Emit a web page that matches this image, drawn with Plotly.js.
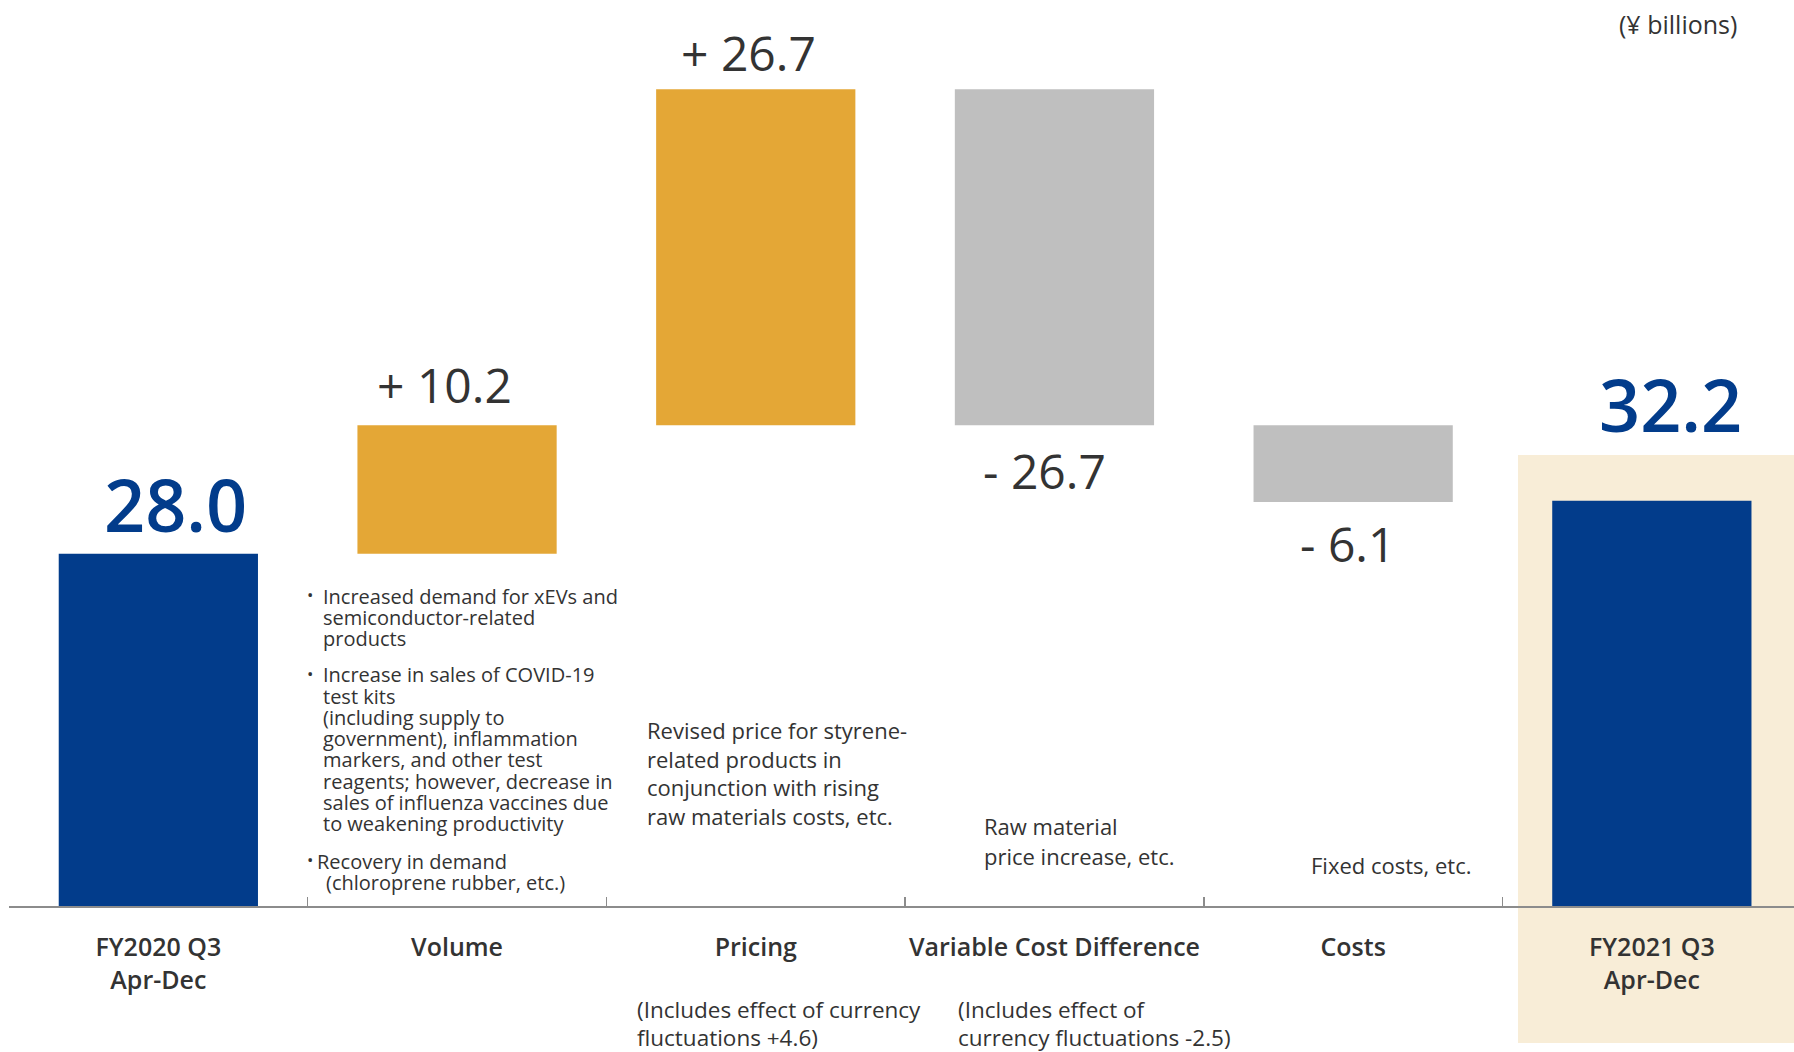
<!DOCTYPE html>
<html><head><meta charset="utf-8">
<script src="https://cdn.plot.ly/plotly-3.0.1.min.js"></script>
<style>html,body{margin:0;padding:0;background:#fff}</style>
</head><body>
<div id="chart" style="width:1794px;height:1052px"></div>
<script>
// ---- data ----
const categories = ["FY2020 Q3<br>Apr-Dec", "Volume", "Pricing", "Variable Cost Difference", "Costs", "FY2021 Q3<br>Apr-Dec"];
const measures = ["absolute", "relative", "relative", "relative", "relative", "absolute"];
const values = [28.0, 10.2, 26.7, -26.7, -6.1, 32.2];
const valueLabels = ["28.0", "+ 10.2", "+ 26.7", "- 26.7", "- 6.1", "32.2"];
const unitLabel = "(¥ billions)";
const volumeNotes1 = ["Increased demand for xEVs and", "semiconductor-related", "products"];
const volumeNotes2 = ["Increase in sales of COVID-19", "test kits", "(including supply to", "government), inflammation", "markers, and other test", "reagents; however, decrease in", "sales of influenza vaccines due", "to weakening productivity"];
const volumeNotes3 = ["Recovery in demand", "(chloroprene rubber, etc.)"];
const pricingNotes = ["Revised price for styrene-", "related products in", "conjunction with rising", "raw materials costs, etc."];
const variableNotes = ["Raw material", "price increase, etc."];
const costsNotes = ["Fixed costs, etc."];
const pricingSub = ["(Includes effect of currency", "fluctuations +4.6)"];
const variableSub = ["(Includes effect of", "currency fluctuations -2.5)"];

// ---- styling ----
const NAVY = "#023C8B", ORANGE = "#E4A736", GREY = "#BFBFBF", BEIGE = "#F8EDD7", TXT = "#333333";
const FONT = "Open Sans, Noto Sans, sans-serif";
const W = 1794, H = 1052, ML = 9, MB = 146;
const PW = W - ML, PH = H - MB;
const px = p => (p - ML) / PW;
const py = p => (PH - p) / PH;

// cumulative levels
const tops = [], bottoms = [];
let level = 0;
values.forEach((v, i) => {
  let start = level;
  if (measures[i] === "absolute") { start = 0; level = v; } else { level += v; }
  tops.push(Math.max(start, level));
  bottoms.push(Math.min(start, level));
});

const annotations = [];
// value labels
const labelStyle = [
  {pos: "top", dx: 17, dy: 50, size: 72, color: NAVY, weight: 600},
  {pos: "top", dx: -13, dy: 41, size: 48, color: TXT, weight: 400},
  {pos: "top", dx: -7, dy: 37, size: 48, color: TXT, weight: 400},
  {pos: "bottom", dx: -10, dy: -45, size: 48, color: TXT, weight: 400},
  {pos: "bottom", dx: -6, dy: -41, size: 48, color: TXT, weight: 400},
  {pos: "top", dx: 19, dy: 97, size: 72, color: NAVY, weight: 600}
];
valueLabels.forEach((t, i) => {
  const s = labelStyle[i];
  annotations.push({
    x: categories[i], y: s.pos === "top" ? tops[i] : bottoms[i], xref: "x", yref: "y",
    text: t, showarrow: false, xanchor: "center", yanchor: "middle",
    xshift: s.dx, yshift: s.dy,
    font: {family: FONT, size: s.size, color: s.color, weight: s.weight}
  });
});

function addLines(lines, x, y, step, size, extra) {
  lines.forEach((t, k) => {
    const xx = (extra && extra[k] !== undefined) ? x + extra[k] : x;
    annotations.push({
      x: px(xx), y: py(y + k * step), xref: "paper", yref: "paper",
      text: t, showarrow: false, xanchor: "left", yanchor: "middle",
      font: {family: FONT, size: size, color: TXT}
    });
  });
}
function addBullet(x, y) {
  annotations.push({
    x: px(x), y: py(y), xref: "paper", yref: "paper", text: "•", showarrow: false,
    xanchor: "center", yanchor: "middle", font: {family: FONT, size: 17, color: TXT}
  });
}
addBullet(309.5, 594); addLines(volumeNotes1, 321, 596, 21.2, 20);
addBullet(309.5, 673); addLines(volumeNotes2, 321, 675, 21.2, 20);
addBullet(309.5, 859); addLines(volumeNotes3, 315, 861.5, 21.2, 20, [0, 9]);
addLines(pricingNotes, 645, 730, 28.6, 22);
addLines(variableNotes, 982, 826, 29.7, 22);
addLines(costsNotes, 1309, 865, 0, 22);
addLines(pricingSub, 635, 1009, 28.2, 22.5);
addLines(variableSub, 956, 1009, 28.2, 22.5);
annotations.push({
  x: px(1739), y: py(24), xref: "paper", yref: "paper", text: unitLabel, showarrow: false,
  xanchor: "right", yanchor: "middle", font: {family: FONT, size: 25, color: TXT}
});

const trace = {
  type: "waterfall", x: categories, y: values, measure: measures, width: 0.667,
  increasing: {marker: {color: ORANGE}},
  decreasing: {marker: {color: GREY}},
  totals: {marker: {color: NAVY}},
  connector: {visible: false},
  textinfo: "none", hoverinfo: "skip"
};

const layout = {
  width: W, height: H,
  margin: {l: ML, r: 0, t: 0, b: MB, pad: 0},
  paper_bgcolor: "#ffffff", plot_bgcolor: "rgba(0,0,0,0)",
  showlegend: false,
  xaxis: {
    type: "category", range: [-0.5, -0.5 + PW / 298.7], fixedrange: true, automargin: false,
    showline: true, linecolor: "#8C8C8C", linewidth: 2,
    ticks: "inside", tickson: "boundaries", ticklen: 9, tickwidth: 1.5, tickcolor: "#8C8C8C",
    showgrid: false, zeroline: false, ticklabelstandoff: 18, tickangle: 0,
    tickfont: {family: FONT, size: 25, color: TXT, weight: 600}
  },
  yaxis: {range: [0, 72], visible: false, showgrid: false, zeroline: false, fixedrange: true},
  shapes: [{
    type: "rect", xref: "paper", yref: "paper", layer: "below",
    x0: px(1518), x1: 1.01, y0: py(1043), y1: py(455),
    fillcolor: BEIGE, line: {width: 0}
  }],
  annotations: annotations
};
Plotly.newPlot("chart", [trace], layout, {displayModeBar: false, staticPlot: true});
</script>
</body></html>
